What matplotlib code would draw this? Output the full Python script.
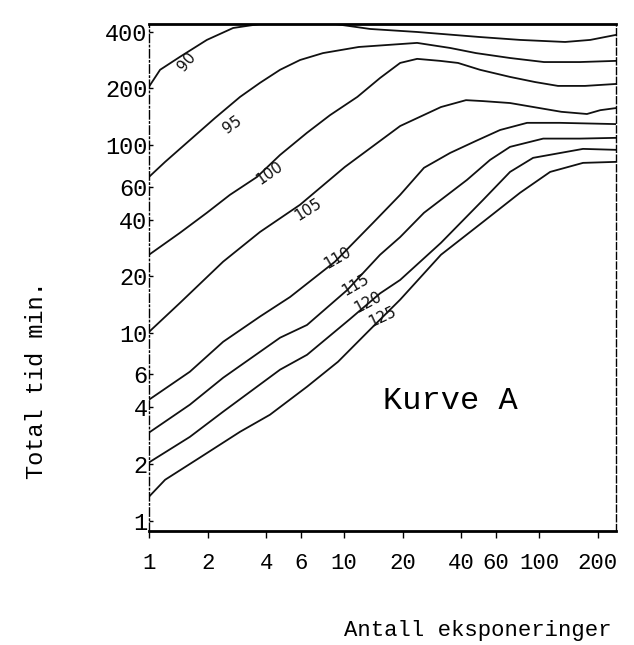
import matplotlib
matplotlib.use("Agg")
import matplotlib.pyplot as plt
from matplotlib.ticker import FixedLocator, FixedFormatter, NullLocator

# curve levels (x = antall eksponeringer, y = total tid min.)
levels = [90, 95, 100, 105, 110, 115, 120, 125]

x90 = [1.0, 1.14, 1.44, 1.98, 2.70, 3.71, 8.99, 13.6, 23.7, 49.8, 79.9, 136, 183, 248]
y90 = [204, 251, 294, 362, 419, 440, 440, 414, 399, 375, 362, 353, 362, 385]

x95 = [1.0, 1.21, 1.62, 2.18, 2.93, 3.71, 4.70, 5.95, 7.80, 11.9, 23.7, 35.0, 47.5, 71.0, 106, 162, 248]
y95 = [67.5, 81.2, 106, 139, 180, 214, 251, 283, 308, 332, 349, 328, 308, 290, 276, 276, 280]

x100 = [1.0, 1.44, 1.98, 2.60, 3.58, 4.70, 6.46, 8.48, 11.7, 15.3, 19.4, 23.7, 31.1, 38.4, 49.8, 71.0, 95.4, 125, 172, 248]
y100 = [26.0, 34.0, 43.5, 54.2, 67.5, 88.4, 116, 144, 180, 227, 273, 287, 280, 273, 251, 230, 216, 206, 206, 211]

x105 = [1.0, 1.44, 2.40, 3.71, 5.95, 10.1, 19.4, 31.4, 42.2, 51.6, 71.0, 130, 176, 206, 248]
y105 = [10.1, 14.4, 23.9, 34.4, 48.0, 76.3, 126, 159, 173, 171, 167, 150, 146, 153, 157]

x110 = [1.0, 1.62, 2.40, 3.71, 5.29, 8.99, 14.1, 19.4, 25.7, 35.0, 47.5, 63.1, 86.8, 128, 248]
y110 = [4.40, 6.20, 8.95, 12.2, 15.5, 23.9, 38.5, 54.2, 75.5, 90.6, 105, 120, 131, 131, 129]

x115 = [1.0, 1.62, 2.40, 4.70, 6.46, 10.4, 15.3, 19.4, 25.7, 42.7, 56.1, 71.0, 105, 162, 248]
y115 = [2.94, 4.14, 5.76, 9.41, 11.0, 16.9, 26.0, 32.3, 43.5, 65.1, 83.2, 97.6, 108, 108, 109]

x120 = [1.0, 1.62, 2.40, 4.70, 6.46, 10.7, 15.3, 19.4, 31.4, 51.6, 71.0, 93.2, 168, 248]
y120 = [2.04, 2.79, 3.80, 6.36, 7.63, 11.8, 16.2, 19.1, 30.1, 50.9, 71.8, 85.3, 95.2, 94.1]

x125 = [1.0, 1.21, 1.83, 2.93, 4.17, 6.46, 9.32, 13.6, 19.4, 31.4, 51.6, 79.9, 114, 168, 248]
y125 = [1.34, 1.65, 2.17, 2.97, 3.66, 5.16, 7.01, 10.4, 15.0, 26.0, 38.9, 55.6, 71.8, 80.2, 81.2]

xs = [x90, x95, x100, x105, x110, x115, x120, x125]
ys = [y90, y95, y100, y105, y110, y115, y120, y125]

x_ticks = [1, 2, 4, 6, 10, 20, 40, 60, 100, 200]
y_ticks = [1, 2, 4, 6, 10, 20, 40, 60, 100, 200, 400]

# where the hand-written level numbers sit, and their slant
label_x = [1.57, 2.67, 4.17, 6.54, 9.32, 11.4, 13.3, 15.8]
label_y = [276, 128, 71, 45, 25.1, 18.0, 14.6, 12.2]
label_rot = [50, 35, 35, 32, 30, 30, 28, 25]

plt.rcParams["font.family"] = ["Liberation Mono", "DejaVu Sans"]

fig = plt.figure(figsize=(6.34, 6.45), dpi=100)
ax = fig.add_axes([0.235, 0.1767, 0.7366, 0.7861])
ax.set_xscale("log")
ax.set_yscale("log")
ax.set_xlim(1, 248)
ax.set_ylim(0.88, 440)

for x, y in zip(xs, ys):
    ax.plot(x, y, color="#111111", lw=1.3, solid_joinstyle="round")

for lv, lx, ly, r in zip(levels, label_x, label_y, label_rot):
    ax.text(lx, ly, str(lv), fontsize=11, family="DejaVu Sans", rotation=r,
            ha="center", va="center", color="#111111")

ax.xaxis.set_major_locator(FixedLocator(x_ticks))
ax.xaxis.set_major_formatter(FixedFormatter([str(t) for t in x_ticks]))
ax.yaxis.set_major_locator(FixedLocator(y_ticks))
ax.yaxis.set_major_formatter(FixedFormatter([str(t) for t in y_ticks]))
ax.xaxis.set_minor_locator(NullLocator())
ax.yaxis.set_minor_locator(NullLocator())
ax.tick_params(axis="x", direction="out", length=5, width=1, pad=11, labelsize=16)
ax.tick_params(axis="y", direction="in", length=3, width=1, pad=1, labelsize=17)

ax.spines["top"].set_linewidth(2)
ax.spines["bottom"].set_linewidth(2)
ax.spines["left"].set_linewidth(1)
ax.spines["left"].set_linestyle((0, (6, 2, 1, 2)))
ax.spines["right"].set_linewidth(1)
ax.spines["right"].set_linestyle((0, (5, 2)))

ax.text(0.71, 0.378, "Kurve A", transform=fig.transFigure, fontsize=23,
        ha="center", va="center")
fig.text(0.754, 0.023, "Antall eksponeringer", fontsize=16, ha="center", va="center")
fig.text(0.058, 0.41, "Total tid min.", fontsize=17, rotation=90,
         ha="center", va="center")

fig.savefig("out.png", dpi=100, facecolor="white")
